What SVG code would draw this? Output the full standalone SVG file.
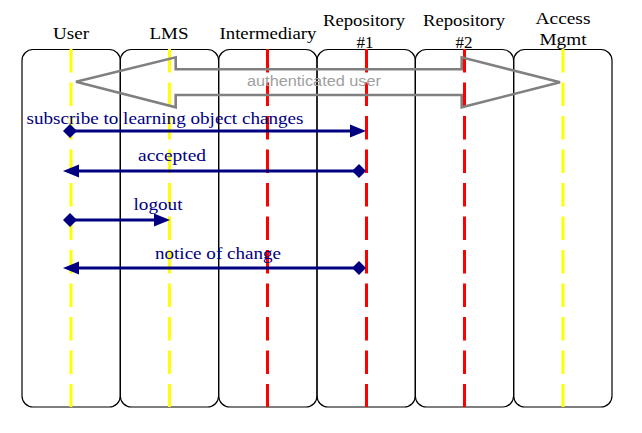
<svg xmlns="http://www.w3.org/2000/svg" width="642" height="433" viewBox="0 0 642 433">
<style>
.box{fill:none;stroke:#000;stroke-width:1.2}
.head{font-family:"Liberation Serif","Times New Roman",serif;font-size:17px;fill:#000;text-anchor:middle}
.ly{stroke:#FFFF00;stroke-width:3;stroke-dasharray:23.5 10}
.lr{stroke:#FF0000;stroke-width:3;stroke-dasharray:23.5 10}
.msg{stroke:#000080;stroke-width:3;fill:none}
.lbl{font-family:"Liberation Serif","Times New Roman",serif;font-size:17px;fill:#000080;text-anchor:middle}
.hd{fill:#000080;stroke:none}
</style>
<rect width="642" height="433" fill="#fff"/>
<g id="user">
<rect class="box" x="22" y="49.5" width="98.3" height="357.5" rx="11"/>
<line class="ly" x1="71" y1="49" x2="71" y2="407"/>
<text class="head" x="71" y="39" textLength="36" lengthAdjust="spacingAndGlyphs">User</text>
</g>
<g id="lms">
<rect class="box" x="120.3" y="49.5" width="98.3" height="357.5" rx="11"/>
<line class="ly" x1="169.5" y1="49" x2="169.5" y2="407"/>
<text class="head" x="169" y="38.5" textLength="39" lengthAdjust="spacingAndGlyphs">LMS</text>
</g>
<g id="intermediary">
<rect class="box" x="218.7" y="49.5" width="98.3" height="357.5" rx="11"/>
<line class="lr" x1="267.5" y1="49" x2="267.5" y2="407"/>
<text class="head" x="268" y="39" textLength="97" lengthAdjust="spacingAndGlyphs">Intermediary</text>
</g>
<g id="repository1">
<rect class="box" x="317" y="49.5" width="98.3" height="357.5" rx="11"/>
<line class="lr" x1="366.5" y1="49" x2="366.5" y2="407"/>
<text class="head" x="364" y="26" textLength="82" lengthAdjust="spacingAndGlyphs">Repository</text>
<text class="head" x="365" y="47.5" textLength="17" lengthAdjust="spacingAndGlyphs">#1</text>
</g>
<g id="repository2">
<rect class="box" x="415.3" y="49.5" width="98.3" height="357.5" rx="11"/>
<line class="lr" x1="464.5" y1="49" x2="464.5" y2="407"/>
<text class="head" x="464" y="26" textLength="82" lengthAdjust="spacingAndGlyphs">Repository</text>
<text class="head" x="464" y="47.5" textLength="17" lengthAdjust="spacingAndGlyphs">#2</text>
</g>
<g id="access-mgmt">
<rect class="box" x="513.7" y="49.5" width="98.3" height="357.5" rx="11"/>
<line class="ly" x1="563" y1="49" x2="563" y2="407"/>
<text class="head" x="563" y="23.5" textLength="55" lengthAdjust="spacingAndGlyphs">Access</text>
<text class="head" x="563" y="45" textLength="47" lengthAdjust="spacingAndGlyphs">Mgmt</text>
</g>
<g id="connectors">
<g id="authenticated-user">
<polygon points="76,81.7 175.7,57.3 175.7,69.3 461.7,69.3 461.7,57.3 560,82.3 461.7,107.3 461.7,95 175.7,95 175.7,107.3" fill="none" stroke="#808080" stroke-width="2.6" stroke-linejoin="miter"/>
<text x="314" y="86" font-family="Liberation Sans, Arial, sans-serif" font-size="15.5" fill="#A0A0A0" text-anchor="middle" textLength="134" lengthAdjust="spacingAndGlyphs">authenticated user</text>
</g>
<g id="subscribe">
<line class="msg" x1="70" y1="131" x2="352" y2="131"/>
<polygon class="hd" points="63,131 70,124 77,131 70,138"/>
<polygon class="hd" points="366,131 350,124.5 350,137.5"/>
<text class="lbl" x="165" y="123.5" textLength="277" lengthAdjust="spacingAndGlyphs">subscribe to learning object changes</text>
</g>
<g id="accepted">
<line class="msg" x1="359" y1="171" x2="76" y2="171"/>
<polygon class="hd" points="352,171 359,164 366,171 359,178"/>
<polygon class="hd" points="63,171 79,164.5 79,177.5"/>
<text class="lbl" x="172" y="161" textLength="68" lengthAdjust="spacingAndGlyphs">accepted</text>
</g>
<g id="logout">
<line class="msg" x1="70" y1="220" x2="156" y2="220"/>
<polygon class="hd" points="63,220 70,213 77,220 70,227"/>
<polygon class="hd" points="170,220 154,213.5 154,226.5"/>
<text class="lbl" x="158" y="209.5" textLength="49" lengthAdjust="spacingAndGlyphs">logout</text>
</g>
<g id="notice">
<line class="msg" x1="359" y1="268" x2="76" y2="268"/>
<polygon class="hd" points="352,268 359,261 366,268 359,275"/>
<polygon class="hd" points="63,268 79,261.5 79,274.5"/>
<text class="lbl" x="218" y="258.5" textLength="126" lengthAdjust="spacingAndGlyphs">notice of change</text>
</g>
</g>
</svg>
